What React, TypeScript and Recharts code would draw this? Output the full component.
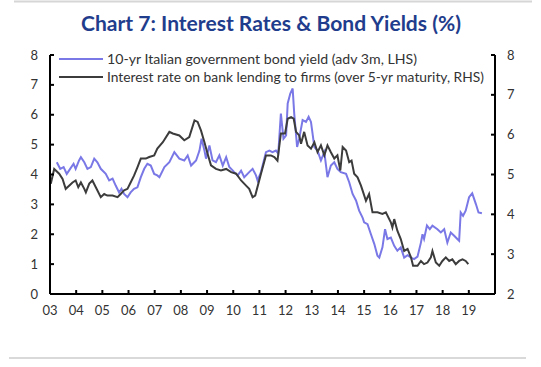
import React from 'react';
import { LineChart, Line, XAxis, YAxis, Legend } from 'recharts';

const titleText = 'Chart 7: Interest Rates & Bond Yields (%)';
const seriesNames = [
  '10-yr Italian government bond yield (adv 3m, LHS)',
  'Interest rate on bank lending to firms (over 5-yr maturity, RHS)',
];

// 10-yr bond yield (LHS), time in decimal years
const bondT = [
  2003.26, 2003.39, 2003.52, 2003.64, 2003.77, 2003.9, 2003.98, 2004.11, 2004.18, 2004.31,
  2004.43, 2004.56, 2004.69, 2004.81, 2004.94, 2005.13, 2005.26, 2005.39, 2005.51, 2005.64,
  2005.73, 2005.83, 2005.96, 2006.08, 2006.21, 2006.34, 2006.47, 2006.6, 2006.72, 2006.85,
  2006.98, 2007.1, 2007.18, 2007.37, 2007.56, 2007.75, 2007.94, 2008.13, 2008.26, 2008.39,
  2008.58, 2008.71, 2008.79, 2008.9, 2008.96, 2009.09, 2009.21, 2009.34, 2009.47, 2009.6,
  2009.73, 2009.85, 2010.04, 2010.17, 2010.3, 2010.42, 2010.61, 2010.74, 2010.87, 2010.93,
  2011.06, 2011.25, 2011.38, 2011.5, 2011.63, 2011.72, 2011.82, 2011.92, 2012.02, 2012.08,
  2012.18, 2012.27, 2012.33, 2012.44, 2012.52, 2012.65, 2012.78, 2012.88, 2012.97, 2013.1,
  2013.22, 2013.35, 2013.48, 2013.6, 2013.73, 2013.86, 2013.98, 2014.11, 2014.31, 2014.43,
  2014.56, 2014.69, 2014.81, 2014.94, 2015.0, 2015.13, 2015.26, 2015.39, 2015.51, 2015.58,
  2015.7, 2015.8, 2015.89, 2016.02, 2016.15, 2016.27, 2016.4, 2016.53, 2016.66, 2016.79,
  2016.91, 2017.04, 2017.17, 2017.23, 2017.29, 2017.4, 2017.51, 2017.61, 2017.8, 2017.93,
  2018.06, 2018.18, 2018.31, 2018.44, 2018.56, 2018.63, 2018.69, 2018.78, 2018.88, 2019.01,
  2019.13, 2019.27, 2019.37, 2019.5,
];
const bondV = [
  4.41, 4.19, 4.25, 4.02, 4.19, 4.36, 4.19, 4.47, 4.58, 4.41,
  4.19, 4.25, 4.53, 4.41, 4.19, 4.02, 3.8, 3.86, 3.63, 3.4,
  3.52, 3.35, 3.24, 3.4, 3.52, 3.57, 3.91, 4.19, 4.36, 4.3,
  4.02, 3.97, 3.91, 4.25, 4.41, 4.75, 4.53, 4.47, 4.64, 4.3,
  4.47, 4.8, 5.2, 4.8, 4.53, 4.97, 4.47, 4.41, 4.64, 4.3,
  4.58, 4.25, 4.08, 3.97, 4.13, 3.91, 4.08, 4.19, 3.97, 3.8,
  4.08, 4.75, 4.8, 4.75, 4.8, 4.7, 6.04, 5.2, 5.31, 6.38,
  6.71, 6.88, 6.04, 4.92, 5.2, 5.82, 5.76, 5.93, 5.76, 4.92,
  4.8, 4.47, 4.75, 3.91, 4.3, 4.41, 4.19, 4.08, 4.02, 3.74,
  3.35, 3.13, 2.79, 2.56, 2.4, 2.34, 2.0, 1.67, 1.28, 1.22,
  1.56, 2.17, 1.84, 1.89, 1.61, 1.45, 1.56, 1.22, 1.3, 1.22,
  1.17, 1.25, 1.72, 2.0, 1.84, 2.29, 2.17, 2.29, 2.17, 2.06,
  2.17, 1.72, 2.06, 1.95, 1.84, 1.78, 2.73, 2.62, 2.79, 3.24,
  3.37, 3.01, 2.73, 2.7,
];

// Bank lending rate (RHS)
const lendT = [
  2003.03, 2003.16, 2003.35, 2003.48, 2003.6, 2003.73, 2003.86, 2003.98, 2004.08, 2004.18,
  2004.31, 2004.37, 2004.5, 2004.62, 2004.75, 2004.94, 2005.07, 2005.19, 2005.39, 2005.58,
  2005.7, 2005.83, 2005.96, 2006.08, 2006.21, 2006.34, 2006.47, 2006.66, 2006.79, 2006.98,
  2007.1, 2007.31, 2007.56, 2007.69, 2007.94, 2008.13, 2008.32, 2008.52, 2008.64, 2008.77,
  2008.9, 2009.02, 2009.15, 2009.34, 2009.53, 2009.73, 2009.92, 2010.11, 2010.3, 2010.49,
  2010.61, 2010.74, 2010.84, 2011.06, 2011.25, 2011.44, 2011.57, 2011.69, 2011.82, 2011.98,
  2012.08, 2012.21, 2012.31, 2012.4, 2012.52, 2012.59, 2012.71, 2012.84, 2012.97, 2013.1,
  2013.22, 2013.35, 2013.48, 2013.6, 2013.73, 2013.86, 2013.98, 2014.09, 2014.18, 2014.31,
  2014.43, 2014.52, 2014.62, 2014.75, 2014.88, 2014.94, 2015.07, 2015.19, 2015.32, 2015.51,
  2015.7, 2015.83, 2016.02, 2016.08, 2016.15, 2016.27, 2016.4, 2016.53, 2016.66, 2016.79,
  2016.87, 2017.04, 2017.17, 2017.29, 2017.42, 2017.55, 2017.61, 2017.74, 2017.87, 2017.99,
  2018.12, 2018.25, 2018.37, 2018.5, 2018.63, 2018.76, 2018.88, 2018.98,
];
const lendV = [
  4.77, 5.14, 5.02, 4.89, 4.64, 4.72, 4.8, 4.85, 4.68, 4.8,
  4.64, 4.55, 4.77, 4.85, 4.68, 4.43, 4.51, 4.47, 4.47, 4.43,
  4.51, 4.6, 4.64, 4.8, 4.97, 5.18, 5.4, 5.4, 5.44, 5.48,
  5.65, 5.81, 6.07, 6.03, 5.98, 5.86, 5.94, 6.36, 6.32, 6.1,
  5.81, 5.52, 5.23, 5.14, 5.1, 5.14, 5.06, 5.02, 4.85, 4.72,
  4.64, 4.43, 4.47, 5.02, 5.48, 5.48, 5.44, 5.35, 6.03, 6.03,
  6.4, 6.44, 6.4, 6.07, 5.98, 5.77, 6.07, 5.73, 5.65, 5.81,
  5.56, 5.73, 5.48, 5.73, 5.56, 5.4, 5.48, 5.1, 5.69, 5.6,
  5.31, 5.35, 5.02, 4.93, 4.72, 4.6, 4.34, 4.51, 4.05, 4.05,
  4.01, 4.05, 3.8, 3.67, 3.88, 3.59, 3.38, 3.08, 3.13, 2.92,
  2.71, 2.71, 2.83, 2.75, 2.79, 2.92, 3.08, 2.79, 2.71, 2.83,
  2.92, 2.83, 2.87, 2.75, 2.83, 2.87, 2.83, 2.75,
];

const xTicks = [2003, 2004, 2005, 2006, 2007, 2008, 2009, 2010, 2011, 2012, 2013, 2014, 2015, 2016, 2017, 2018, 2019];
const xTickLabels = ['03', '04', '05', '06', '07', '08', '09', '10', '11', '12', '13', '14', '15', '16', '17', '18', '19'];
const leftTicks = [0, 1, 2, 3, 4, 5, 6, 7, 8];
const rightTicks = [2, 3, 4, 5, 6, 7, 8];

const BLUE = '#7a78e6';
const DARK = '#3c3c3c';
const FONT = "Lato, 'Open Sans', sans-serif";

type Row = { t: number; bond?: number; lend?: number };
const rowMap = new Map<number, Row>();
bondT.forEach((t, i) => {
  const r = rowMap.get(t) || { t };
  r.bond = bondV[i];
  rowMap.set(t, r);
});
lendT.forEach((t, i) => {
  const r = rowMap.get(t) || { t };
  r.lend = lendV[i];
  rowMap.set(t, r);
});
const data: Row[] = Array.from(rowMap.values()).sort((a, b) => a.t - b.t);

const legendLengths = [310, 377];

const LegendContent = (props: any) => {
  const payload = props.payload || [];
  return (
    <svg width={450} height={40} style={{ display: 'block' }}>
      {payload.map((p: any, i: number) => {
        const y = 9 + i * 18;
        return (
          <g key={i}>
            <line x1={4} x2={48} y1={y} y2={y} stroke={p.color} strokeWidth={2.2} />
            <text
              x={52}
              y={y + 4.5}
              fontFamily={FONT}
              fontSize={13}
              fill="#333"
              textLength={legendLengths[i]}
              lengthAdjust="spacingAndGlyphs"
            >
              {p.value}
            </text>
          </g>
        );
      })}
    </svg>
  );
};

export default function App() {
  return (
    <div style={{ position: 'absolute', left: 0, top: 0, width: 541, height: 367, background: '#fff' }}>
      <svg width={541} height={367} style={{ position: 'absolute', left: 0, top: 0 }}>
        <line x1={14} x2={532} y1={1.5} y2={1.5} stroke="#d6d6d6" strokeWidth={2} />
        <text
          x={271}
          y={31}
          textAnchor="middle"
          fontFamily={FONT}
          fontWeight={700}
          fontSize={21}
          fill="#1f3d8c"
          textLength={380}
          lengthAdjust="spacingAndGlyphs"
        >
          {titleText}
        </text>
        <line x1={9} x2={526} y1={358} y2={358} stroke="#d9d9d9" strokeWidth={2} />
      </svg>
      <div style={{ position: 'absolute', left: 0, top: 0 }}>
        <LineChart
          width={541}
          height={367}
          data={data}
          margin={{ top: 55, right: 0, bottom: 43, left: 0 }}
        >
          <XAxis
            dataKey="t"
            type="number"
            domain={[2003, 2020]}
            ticks={xTicks}
            interval={0}
            tickFormatter={(v: number) => xTickLabels[xTicks.indexOf(v)] ?? ''}
            height={30}
            tickSize={-4}
            tickMargin={16}
            axisLine={{ stroke: '#000', strokeWidth: 2 }}
            tickLine={{ stroke: '#000', strokeWidth: 2 }}
            tick={{ fill: '#333', fontSize: 13, fontFamily: FONT }}
            allowDataOverflow
          />
          <YAxis
            yAxisId="left"
            orientation="left"
            domain={[0, 8]}
            ticks={leftTicks}
            interval={0}
            width={50}
            tickSize={-4}
            tickMargin={16}
            axisLine={{ stroke: '#000', strokeWidth: 2 }}
            tickLine={{ stroke: '#000', strokeWidth: 2 }}
            tick={{ fill: '#333', fontSize: 13, fontFamily: FONT }}
          />
          <YAxis
            yAxisId="right"
            orientation="right"
            domain={[2, 8]}
            ticks={rightTicks}
            interval={0}
            width={46}
            tickSize={-4}
            tickMargin={16}
            axisLine={{ stroke: '#000', strokeWidth: 2 }}
            tickLine={{ stroke: '#000', strokeWidth: 2 }}
            tick={{ fill: '#333', fontSize: 13, fontFamily: FONT }}
          />
          <Legend
            layout="horizontal"
            verticalAlign="middle"
            align="center"
            content={<LegendContent />}
            wrapperStyle={{ position: 'absolute', left: 55, top: 50, width: 450, height: 40 }}
          />
          <Line
            yAxisId="left"
            dataKey="bond"
            name={seriesNames[0]}
            stroke={BLUE}
            strokeWidth={2}
            dot={false}
            connectNulls
            isAnimationActive={false}
          />
          <Line
            yAxisId="right"
            dataKey="lend"
            name={seriesNames[1]}
            stroke={DARK}
            strokeWidth={2}
            dot={false}
            connectNulls
            isAnimationActive={false}
          />
        </LineChart>
      </div>
    </div>
  );
}
